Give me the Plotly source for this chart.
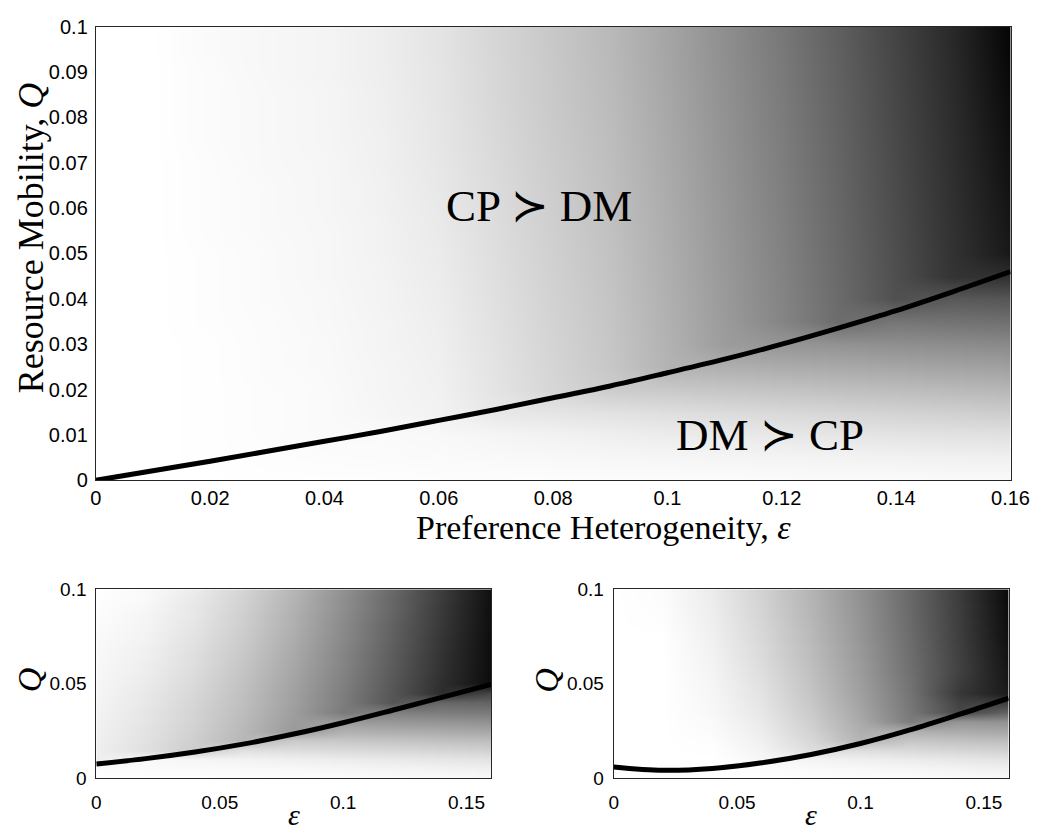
import plotly.graph_objects as go

# ---------------- data ----------------
# main panel grid
eps_main = [0.00, 0.01, 0.02, 0.03, 0.04, 0.05, 0.06, 0.07, 0.08, 0.09,
            0.10, 0.11, 0.12, 0.13, 0.14, 0.15, 0.16]
q_main = [0.000, 0.005, 0.010, 0.015, 0.020, 0.025, 0.030, 0.035, 0.040, 0.045,
          0.050, 0.055, 0.060, 0.065, 0.070, 0.075, 0.080, 0.085, 0.090, 0.095, 0.100]
# gray level (255 = white, 0 = black), rows follow q_main
gray_main = [
    [255,255,255,254,254,254,253,253,253,252,252,252,251,251,251,250,250],
    [255,255,254,253,252,251,250,249,248,247,246,245,244,243,242,241,240],
    [255,255,254,252,250,250,248,245,242,239,236,234,232,230,228,226,225],
    [255,255,254,252,250,246,242,232,229,226,223,220,217,214,211,208,205],
    [255,255,254,252,250,245,241,228,214,204,201,198,195,192,189,186,183],
    [255,255,254,251,249,245,240,227,213,199,179,175,172,169,166,163,160],
    [255,255,254,251,249,244,239,226,212,198,178,156,150,147,144,141,138],
    [255,255,253,251,248,244,238,225,211,197,177,155,133,108,118,115,112],
    [255,255,253,250,248,243,237,224,210,196,176,154,132,107, 80, 89, 86],
    [255,255,253,250,247,243,236,223,209,195,175,153,131,106, 79, 51, 48],
    [255,255,253,250,247,242,235,222,208,194,174,152,130,105, 78, 50, 24],
    [255,255,252,249,247,242,234,221,207,193,173,151,129,104, 77, 49, 22],
    [255,255,252,249,246,241,233,220,206,192,172,150,128,103, 76, 48, 20],
    [255,255,252,249,246,241,232,219,205,191,171,149,127,102, 75, 47, 18],
    [255,255,252,248,246,240,231,218,204,190,170,148,126,101, 74, 46, 16],
    [255,255,251,248,245,240,230,217,203,189,169,147,125,100, 73, 45, 14],
    [255,255,251,248,245,239,230,216,202,188,168,146,124, 99, 72, 44, 12],
    [255,255,251,248,245,239,229,215,201,187,167,145,123, 98, 71, 43, 10],
    [255,255,251,247,244,238,229,215,201,186,166,144,122, 97, 70, 42,  8],
    [255,255,250,247,244,238,228,214,200,185,165,143,121, 96, 69, 41,  6],
    [255,255,250,247,244,238,228,214,200,185,165,143,120, 95, 68, 40,  5],
]
curve_main = [0.0, 0.0021, 0.0042, 0.0064, 0.0086, 0.0108, 0.0132, 0.0156, 0.0182,
              0.0208, 0.0237, 0.0267, 0.0300, 0.0336, 0.0374, 0.0416, 0.0460]

# small panels grid
eps_small = [0.00, 0.02, 0.04, 0.06, 0.08, 0.10, 0.12, 0.14, 0.16]
q_small = q_main
gray_left = [
    [255,254,254,253,252,252,251,251,250],
    [252,251,250,249,248,246,244,242,240],
    [238,249,246,243,240,237,234,231,228],
    [239,224,204,225,222,219,216,213,210],
    [240,226,206,182,202,199,196,193,190],
    [241,227,208,184,154,177,174,171,168],
    [242,229,210,186,156,154,151,148,145],
    [243,230,211,188,158,123,128,125,122],
    [244,232,213,190,160,125, 85,103,100],
    [245,233,215,191,161,126, 86, 45, 72],
    [246,235,217,193,163,128, 88, 46, 12],
    [247,237,219,195,165,130, 90, 48, 12],
    [248,238,221,197,167,132, 92, 49, 13],
    [248,240,222,199,169,133, 93, 50, 13],
    [249,241,224,201,171,135, 95, 52, 13],
    [250,243,226,203,173,137, 97, 53, 13],
    [251,244,228,205,175,138, 98, 55, 14],
    [252,245,230,206,176,140,100, 56, 14],
    [253,247,231,208,178,142,102, 57, 14],
    [254,249,233,210,180,143,103, 59, 15],
    [255,250,235,212,182,145,105, 60, 15],
]
curve_left = [0.0076, 0.0104, 0.0139, 0.0182, 0.0234, 0.0294, 0.0360, 0.0428, 0.0497]

gray_right = [
    [255,255,255,254,253,252,252,251,250],
    [254,255,255,252,250,248,246,243,240],
    [255,255,255,247,244,240,236,232,228],
    [255,255,254,244,222,222,218,214,210],
    [255,255,253,240,216,180,198,194,190],
    [255,255,251,237,211,175,176,172,168],
    [255,255,250,234,207,170,124,149,145],
    [255,255,248,231,203,166,121, 72,100],
    [255,255,247,229,200,163,119, 66, 60],
    [255,255,246,227,197,160,117, 55, 27],
    [255,255,245,225,195,158,115, 60, 24],
    [255,255,244,223,193,156,113, 64, 22],
    [255,255,243,221,191,155,112, 65, 20],
    [255,255,242,219,189,153,111, 64, 18],
    [255,255,241,218,188,152,110, 63, 17],
    [255,255,240,216,186,150,109, 62, 15],
    [255,254,239,215,185,149,108, 62, 14],
    [255,253,238,213,183,148,107, 61, 13],
    [255,253,237,212,182,147,106, 61, 12],
    [255,252,236,211,181,146,105, 60, 11],
    [255,252,235,210,180,145,105, 60, 10],
]
curve_right = [0.0060, 0.0042, 0.0052, 0.0082, 0.0126, 0.0184, 0.0256, 0.0338, 0.0424]

main_xticks = [0, 0.02, 0.04, 0.06, 0.08, 0.10, 0.12, 0.14, 0.16]
main_xlabels = ["0", "0.02", "0.04", "0.06", "0.08", "0.1", "0.12", "0.14", "0.16"]
main_yticks = [0, 0.01, 0.02, 0.03, 0.04, 0.05, 0.06, 0.07, 0.08, 0.09, 0.10]
main_ylabels = ["0", "0.01", "0.02", "0.03", "0.04", "0.05", "0.06", "0.07", "0.08", "0.09", "0.1"]
small_xticks = [0, 0.05, 0.10, 0.15]
small_xlabels = ["0", "0.05", "0.1", "0.15"]
small_yticks = [0, 0.05, 0.10]
small_ylabels = ["0", "0.05", "0.1"]

# ---------------- figure ----------------
W, H = 1051, 836
gray_scale = [[0, "#000000"], [1, "#ffffff"]]
SERIF = "Liberation Serif, Times New Roman, serif"
SANS = "Liberation Sans, Arial, sans-serif"

fig = go.Figure()

panels = [
    ("x", "y", eps_main, q_main, gray_main, curve_main),
    ("x2", "y2", eps_small, q_small, gray_left, curve_left),
    ("x3", "y3", eps_small, q_small, gray_right, curve_right),
]
for xa, ya, ex, qy, gz, cv in panels:
    fig.add_trace(go.Heatmap(x=ex, y=qy, z=gz, colorscale=gray_scale, zmin=0, zmax=255,
                             zsmooth="best", showscale=False, hoverinfo="skip",
                             xaxis=xa, yaxis=ya))
    fig.add_trace(go.Scatter(x=ex, y=cv, mode="lines",
                             line=dict(color="black", width=5, shape="spline"),
                             showlegend=False, hoverinfo="skip", xaxis=xa, yaxis=ya))

def px_x(a, b):
    return [a / W, b / W]

def px_y(top, bottom):
    return [1 - bottom / H, 1 - top / H]

frame = dict(showline=True, mirror=True, linecolor="#262626", linewidth=1,
             showgrid=False, zeroline=False, tickcolor="rgba(0,0,0,0)")

fig.update_layout(
    width=W, height=H, margin=dict(l=0, r=0, t=0, b=0),
    paper_bgcolor="white", plot_bgcolor="white", showlegend=False,
    xaxis=dict(domain=px_x(92, 1029), range=[0, 0.16], tickvals=main_xticks,
               ticktext=main_xlabels, ticks="", anchor="y",
               tickfont=dict(family=SANS, size=20, color="black"), **frame),
    yaxis=dict(domain=px_y(16, 482), range=[0, 0.1], tickvals=main_yticks,
               ticktext=main_ylabels, ticks="outside", ticklen=3, anchor="x",
               tickfont=dict(family=SANS, size=20, color="black"), **frame),
    xaxis2=dict(domain=px_x(92.5, 497), range=[0, 0.16], tickvals=small_xticks,
                ticktext=small_xlabels, ticks="outside", ticklen=7, anchor="y2",
                tickfont=dict(family=SANS, size=19, color="black"), **frame),
    yaxis2=dict(domain=px_y(594, 788), range=[0, 0.1], tickvals=small_yticks,
                ticktext=small_ylabels, ticks="outside", ticklen=5, anchor="x2",
                tickfont=dict(family=SANS, size=19, color="black"), **frame),
    xaxis3=dict(domain=px_x(622.5, 1027), range=[0, 0.16], tickvals=small_xticks,
                ticktext=small_xlabels, ticks="outside", ticklen=7, anchor="y3",
                tickfont=dict(family=SANS, size=19, color="black"), **frame),
    yaxis3=dict(domain=px_y(594, 788), range=[0, 0.1], tickvals=small_yticks,
                ticktext=small_ylabels, ticks="outside", ticklen=5, anchor="x3",
                tickfont=dict(family=SANS, size=19, color="black"), **frame),
)

ann = []
# axis titles (paper coordinates)
ann.append(dict(text="Preference Heterogeneity, <i>ε</i>", x=612 / W, y=1 - 530 / H,
                xref="paper", yref="paper", showarrow=False, xanchor="center", yanchor="middle",
                font=dict(family=SERIF, size=34, color="black")))
ann.append(dict(text="Resource Mobility, <i>Q</i>", x=25 / W, y=1 - 233 / H, textangle=-90,
                xref="paper", yref="paper", showarrow=False, xanchor="center", yanchor="middle",
                font=dict(family=SERIF, size=36, color="black")))
for qx, ex in [(24, 295), (554, 825)]:
    ann.append(dict(text="<i>Q</i>", x=qx / W, y=1 - 687 / H, textangle=-90,
                    xref="paper", yref="paper", showarrow=False, xanchor="center", yanchor="middle",
                    font=dict(family=SERIF, size=34, color="black")))
    ann.append(dict(text="<i>ε</i>", x=ex / W, y=1 - 825 / H,
                    xref="paper", yref="paper", showarrow=False, xanchor="center", yanchor="middle",
                    font=dict(family=SERIF, size=30, color="black")))
# region labels (data coordinates)
ann.append(dict(text="CP ≻ DM", x=0.0775, y=0.0605, xref="x", yref="y", showarrow=False,
                font=dict(family=SERIF, size=45, color="black")))
ann.append(dict(text="DM ≻ CP", x=0.1180, y=0.0099, xref="x", yref="y", showarrow=False,
                font=dict(family=SERIF, size=45, color="black")))
fig.update_layout(annotations=ann)

fig.write_html("out.html")
